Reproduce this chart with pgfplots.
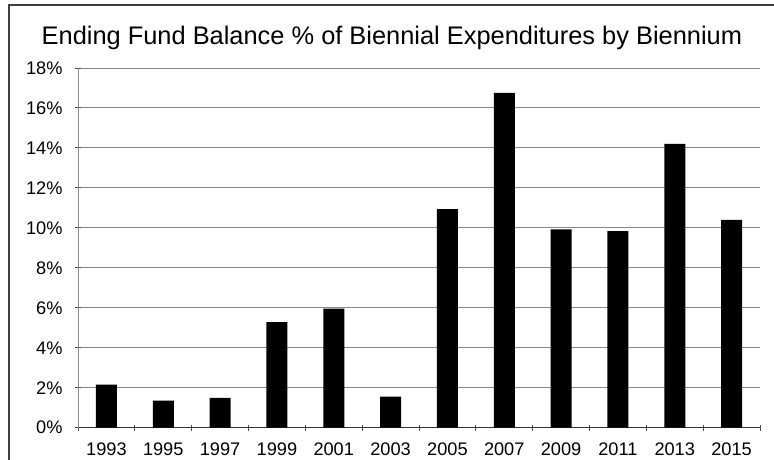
\documentclass[border=0pt]{standalone}
\usepackage{fontspec}
\setmainfont{Liberation Sans}
\usepackage{pgfplots}
\pgfplotsset{compat=1.18}
\begin{document}
\begin{tikzpicture}
\useasboundingbox (0pt,0pt) rectangle (774pt,459pt);
\draw[black!75, line width=1.3pt] (9pt,454pt) rectangle (800pt,-20pt);
\node[anchor=base, inner sep=0pt, font=\fontsize{25.4}{30}\selectfont] at (391.9pt,414pt) {Ending Fund Balance \% of Biennial Expenditures by Biennium};
\begin{axis}[
  at={(78pt,31.3pt)}, anchor=south west,
  scale only axis, width=682pt, height=359.7pt,
  xmin=-0.5, xmax=11.5, ymin=0, ymax=18,
  ytick={0,2,...,18},
  yticklabel={\pgfmathprintnumber{\tick}\%},
  xtick={-0.5,0.5,...,11.5}, xticklabels={},
  extra x ticks={0,1,...,11},
  extra x tick labels={1993,1995,1997,1999,2001,2003,2005,2007,2009,2011,2013,2015},
  extra x tick style={major tick length=0pt, tick label style={yshift=-12pt}},
  tick align=outside, major tick length=6pt,
  tick style={black!70, line width=1pt},
  axis x line=bottom, axis y line=left,
  x axis line style={-, black!80, line width=1.2pt},
  y axis line style={-, black!45, line width=1pt},
  ymajorgrids, grid style={black!47, line width=1pt},
  /pgf/number format/assume math mode=true,
  tick label style={font=\fontsize{18.2}{21}\selectfont},
  yticklabel style={xshift=-9pt},
  clip=false,
]
\addplot[ybar, bar width=21pt, fill=black, draw=none] coordinates {
(0,2.16) (1,1.35) (2,1.49) (3,5.28) (4,5.96) (5,1.55) (6,10.94) (7,16.75) (8,9.93) (9,9.84) (10,14.2) (11,10.4)};
\end{axis}
\end{tikzpicture}
\end{document}
